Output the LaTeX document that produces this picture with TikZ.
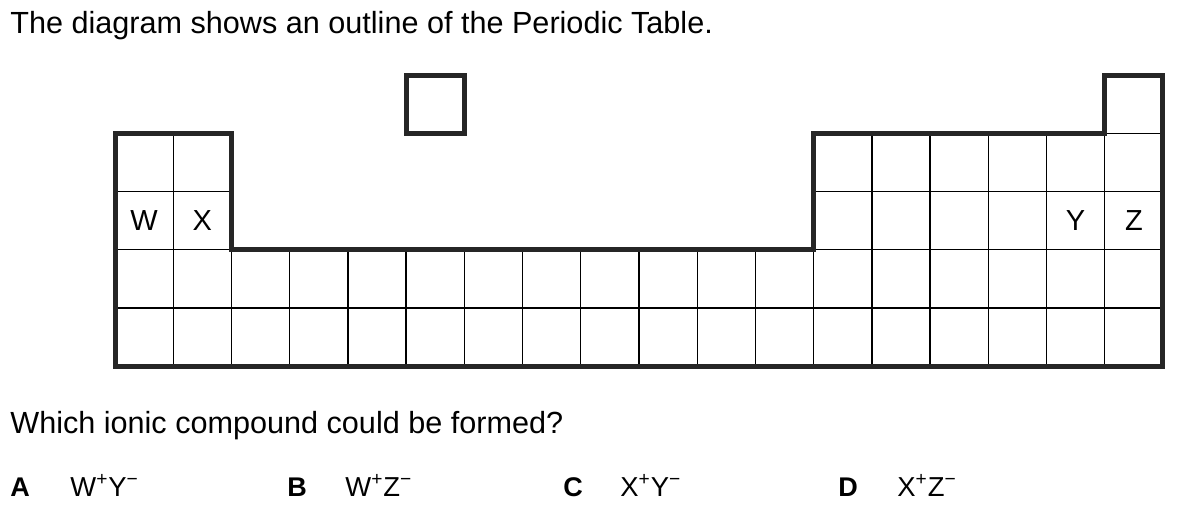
\documentclass[tikz,border=0pt]{standalone}
\usepackage{fontspec}
\setmainfont{Liberation Sans}
\usetikzlibrary{positioning}
\tikzset{outline/.style={line width=2.5pt,draw=black!85,line join=miter},cell/.style={line width=.7pt},
  elt/.style={inner sep=0pt,font=\fontsize{14.5}{17}\selectfont},
  txt/.style={anchor=base west,inner sep=0pt,font=\fontsize{15.3}{18}\selectfont},
  opt/.style={anchor=base west,inner sep=0pt,font=\bfseries\fontsize{13.5}{16}\selectfont},
  ans/.style={anchor=base west,inner sep=0pt,font=\fontsize{13.7}{16}\selectfont}}
\newcommand{\ion}[2]{#1\textsuperscript{#2}}

\begin{document}
\begin{tikzpicture}[x=.5pt,y=-.5pt]
\useasboundingbox (0,0) rectangle (1177,511);
\node[txt] (title) at (10,33) {The diagram shows an outline of the Periodic Table.};
\begin{scope}[shift={(115,75)},x=29.11pt,y=-29.125pt]
% thin cell lines
\draw[cell] (0,2)--(2,2) (12,2)--(18,2) (0,3)--(2,3) (12,3)--(18,3) (0,4)--(18,4) (17,1)--(18,1);
\draw[cell] (1,1)--(1,5);
\foreach \c in {2,...,12} \draw[cell] (\c,3)--(\c,5);
\foreach \c in {13,...,17} \draw[cell] (\c,1)--(\c,5);
% outline
\draw[outline] (0,1)--(2,1)--(2,3)--(12,3)--(12,1)--(17,1)--(17,0)--(18,0)--(18,5)--(0,5)--cycle;
\draw[outline] (5,0) rectangle (6,1);
\node[elt] (w) at (.5,2.5) {W};\node[elt] (x) at (1.5,2.5) {X};
\node[elt] (y) at (16.5,2.5) {Y};\node[elt] (z) at (17.5,2.5) {Z};
\end{scope}
\node[txt] (question) at (10,433) {Which ionic compound could be formed?};
\node[opt] (a) at (10,496) {A};\node[ans] (aa) at (70,496) {\ion{W}{+}\ion{Y}{−}};
\node[opt] (b) at (287,496) {B};\node[ans] (bb) at (345,496) {\ion{W}{+}\ion{Z}{−}};
\node[opt] (c) at (563,496) {C};\node[ans] (cc) at (620,496) {\ion{X}{+}\ion{Y}{−}};
\node[opt] (d) at (838,496) {D};\node[ans] (dd) at (897,496) {\ion{X}{+}\ion{Z}{−}};
\end{tikzpicture}
\end{document}
